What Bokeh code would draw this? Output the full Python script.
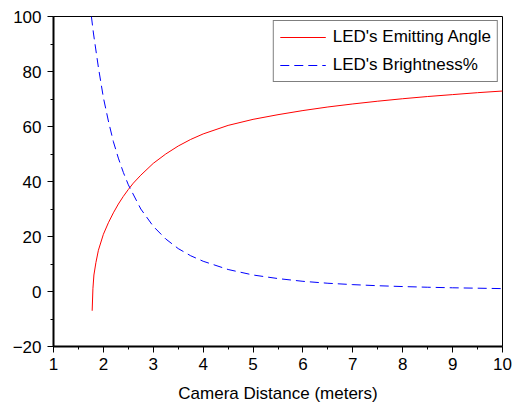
from bokeh.plotting import figure
from bokeh.embed import file_html
from bokeh.resources import INLINE
from bokeh.models import Range1d, FixedTicker, Legend, LegendItem

# Data
angle_x = [1.775, 1.79, 1.81, 1.85, 1.9, 2.0, 2.1, 2.2, 2.3, 2.4, 2.5, 2.6, 2.75, 3.0, 3.25,
           3.5, 3.75, 4.0, 4.5, 5.0, 5.5, 6.0, 6.5, 7.0, 7.5, 8.0, 8.5, 9.0, 9.5, 10.0]
angle_y = [-7.0, 1.0, 6.0, 10.5, 15.0, 20.8, 25.0, 28.6, 31.8, 34.6, 37.1, 39.4, 42.3, 46.6, 50.0,
           52.9, 55.3, 57.3, 60.4, 62.6, 64.3, 65.8, 67.1, 68.2, 69.2, 70.1, 70.9, 71.6, 72.3, 72.9]

bright_x = [1.76, 1.8, 1.9, 2.0, 2.1, 2.2, 2.3, 2.4, 2.5, 2.75, 3.0, 3.25, 3.5, 3.75, 4.0,
            4.5, 5.0, 5.5, 6.0, 6.5, 7.0, 7.5, 8.0, 8.5, 9.0, 9.5, 10.0]
bright_y = [100.0, 94.0, 81.5, 70.5, 62.0, 54.5, 48.5, 43.3, 38.8, 30.0, 23.7, 19.1, 15.6, 13.0, 11.0,
            8.0, 6.0, 4.7, 3.7, 3.0, 2.5, 2.1, 1.8, 1.55, 1.35, 1.2, 1.05]

x_ticks = [1, 2, 3, 4, 5, 6, 7, 8, 9, 10]
y_ticks = [-20, 0, 20, 40, 60, 80, 100]
x_minor = [1.5, 2.5, 3.5, 4.5, 5.5, 6.5, 7.5, 8.5, 9.5]
y_minor = [-10, 10, 30, 50, 70, 90]

series_labels = ["LED's Emitting Angle", "LED's Brightness%"]
x_label = "Camera Distance (meters)"

FONT = "Liberation Sans"

p = figure(width=513, height=405, output_backend="svg", toolbar_location=None,
           x_range=Range1d(1, 10), y_range=Range1d(-20, 100),
           min_border_left=53, min_border_right=11, min_border_top=16, min_border_bottom=57)

p.background_fill_color = "white"
p.border_fill_color = "white"
p.outline_line_color = "black"
p.outline_line_width = 1
p.xgrid.visible = False
p.ygrid.visible = False

r1 = p.line(angle_x, angle_y, line_color="#ff0000", line_width=1)
r2 = p.line(bright_x, bright_y, line_color="#0000ff", line_width=1, line_dash="9 5")

for ax in (p.xaxis[0], p.yaxis[0]):
    ax.axis_line_color = "black"
    ax.axis_line_width = 2
    ax.major_tick_line_color = "black"
    ax.minor_tick_line_color = "black"
    ax.major_tick_in = 0
    ax.major_tick_out = 6
    ax.minor_tick_in = 0
    ax.minor_tick_out = 3
    ax.major_label_text_font = FONT
    ax.major_label_text_font_size = "17px"
    ax.major_label_text_color = "black"
    ax.axis_label_text_font = FONT
    ax.axis_label_text_font_size = "17px"
    ax.axis_label_text_font_style = "normal"
    ax.axis_label_text_color = "black"

p.xaxis[0].ticker = FixedTicker(ticks=x_ticks, minor_ticks=x_minor)
p.yaxis[0].ticker = FixedTicker(ticks=y_ticks, minor_ticks=y_minor)
p.yaxis[0].major_label_overrides = {-20: "\u221220"}
p.yaxis[0].major_label_standoff = 6
p.xaxis[0].major_label_standoff = 5
p.xaxis[0].axis_label = x_label
p.xaxis[0].axis_label_standoff = 11

legend = Legend(items=[LegendItem(label=series_labels[0], renderers=[r1]),
                       LegendItem(label=series_labels[1], renderers=[r2])],
                location="top_right")
legend.margin = 4
legend.padding = 6
legend.spacing = 8
legend.glyph_width = 46
legend.glyph_height = 20
legend.label_height = 20
legend.label_standoff = 7
legend.label_text_font = FONT
legend.label_text_font_size = "17px"
legend.label_text_color = "black"
legend.border_line_color = "black"
legend.border_line_width = 1
legend.background_fill_alpha = 1
p.add_layout(legend, "center")

open("out.html", "w").write(file_html(p, INLINE))
